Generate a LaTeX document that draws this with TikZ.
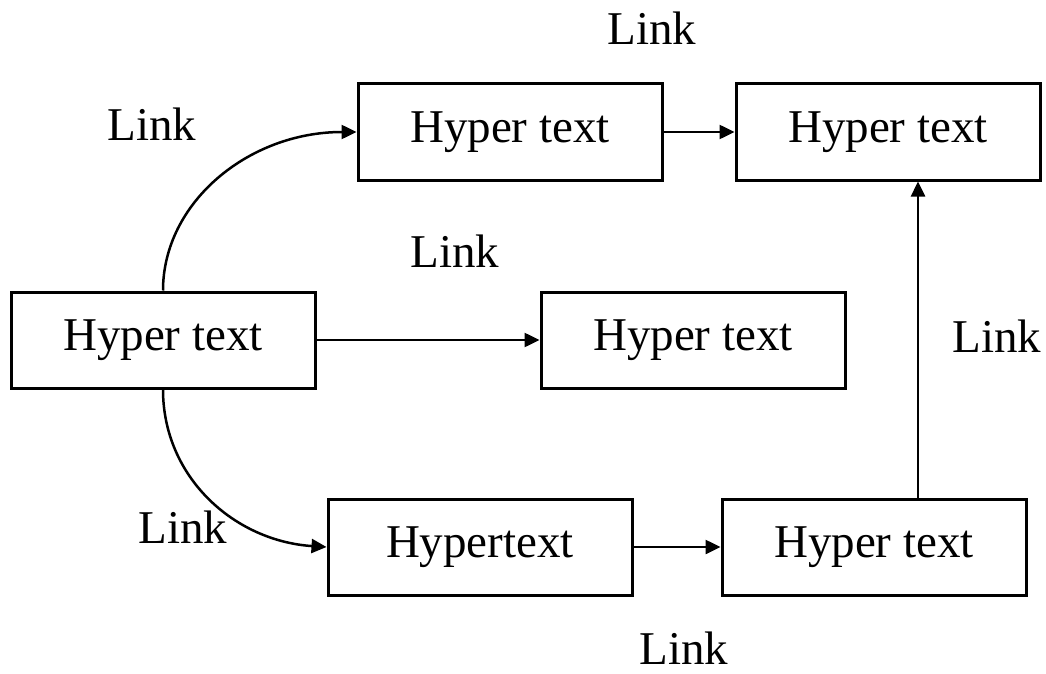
\documentclass[tikz,border=0pt]{standalone}
\usepackage{fontspec}
\setmainfont{Liberation Serif}
\usetikzlibrary{arrows.meta}
\begin{document}
\begin{tikzpicture}[x=1pt,y=-1pt,
  every node/.style={font=\fontsize{47}{56}\selectfont},
  textbox/.style={draw=black,line width=3pt,minimum width=304pt,minimum height=96pt,inner sep=0pt},
  linklabel/.style={anchor=base,inner sep=0pt},
  link/.style={line width=2.5pt,-{Triangle[length=15pt,width=14pt]}}]
  \useasboundingbox (0,0) rectangle (1046,674);
  % boxes
  \node[textbox] (b1) at (510,132) {Hyper text};
  \node[textbox] (b2) at (888,132) {Hyper text};
  \node[textbox] (b3) at (163,340) {Hyper text};
  \node[textbox] (b4) at (693,340) {Hyper text};
  \node[textbox] (b5) at (480,547) {Hypertext};
  \node[textbox] (b6) at (874,547) {Hyper text};
  % labels
  \node[linklabel] (l1) at (652,45) {Link};
  \node[linklabel] (l2) at (152,140) {Link};
  \node[linklabel] (l3) at (455,267) {Link};
  \node[linklabel] (l4) at (997,352) {Link};
  \node[linklabel] (l5) at (183,543) {Link};
  \node[linklabel] (l6) at (684,664) {Link};
  % connectors
  \coordinate (up) at (918,0);
  \draw[link] (b3.north) .. controls +(0,-88) and +(-108,0) .. (b1.west);
  \draw[link] (b3.south) .. controls +(0,88) and +(-92,-6) .. (b5.west);
  \draw[link] (b3.east) -- (b4.west);
  \draw[link] (b1.east) -- (b2.west);
  \draw[link] (b5.east) -- (b6.west);
  \draw[link] (b6.north -| up) -- (b2.south -| up);
\end{tikzpicture}
\end{document}
